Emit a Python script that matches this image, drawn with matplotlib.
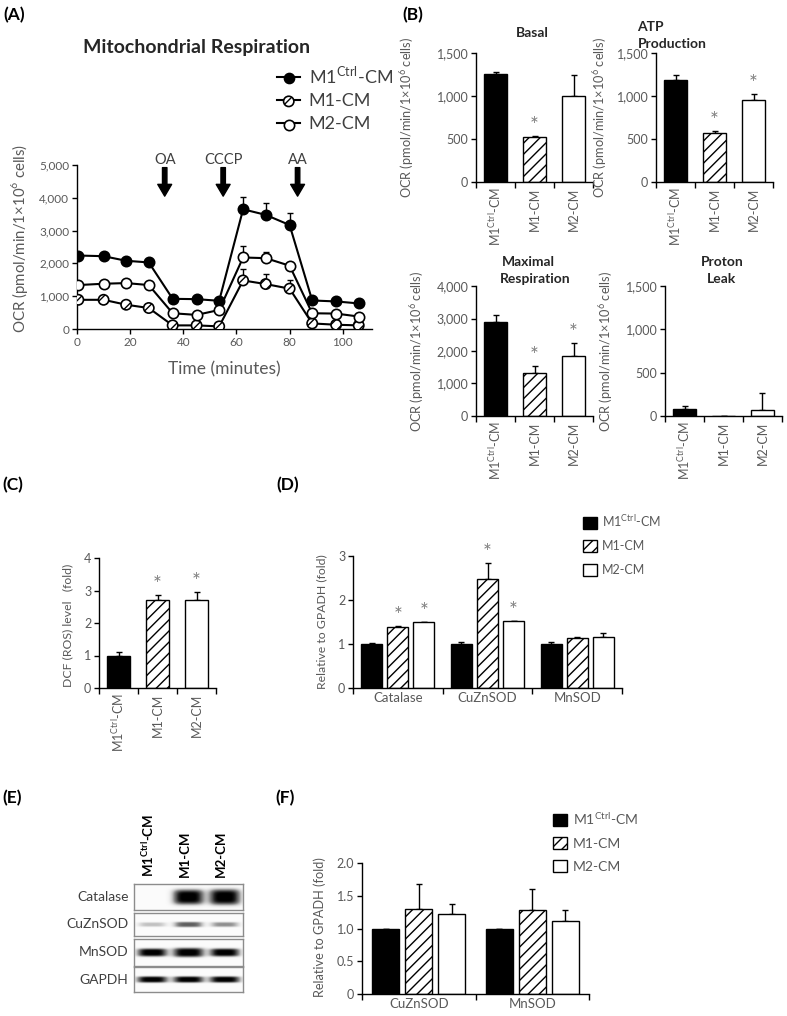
import numpy as np
import matplotlib
matplotlib.use('Agg')
import matplotlib.pyplot as plt
from matplotlib.lines import Line2D
from matplotlib.patches import Patch
from matplotlib.ticker import FuncFormatter

plt.rcParams['font.family'] = ['Lato', 'DejaVu Sans']
plt.rcParams['mathtext.fontset'] = 'custom'
plt.rcParams['mathtext.rm'] = 'Lato'
plt.rcParams['hatch.linewidth'] = 1.0

GREY = '#595959'
STAR = '#7f7f7f'

# ---- (A) mitochondrial respiration time course
time_min = [0.5, 10, 18.5, 27, 36, 45, 53.5, 62.5, 71, 80, 88.5, 97.5, 106]
ctrl_ocr = [2240, 2220, 2080, 2030, 920, 910, 860, 3650, 3480, 3170, 870, 840, 780]
ctrl_err = [60, 40, 50, 40, 40, 40, 40, 370, 350, 370, 40, 40, 40]
m1_ocr = [890, 890, 740, 640, 110, 110, 80, 1480, 1370, 1230, 170, 130, 110]
m1_err = [40, 40, 40, 40, 30, 30, 30, 350, 310, 270, 30, 30, 30]
m2_ocr = [1340, 1380, 1400, 1340, 480, 430, 580, 2180, 2160, 1930, 480, 470, 380]
m2_err = [40, 40, 40, 40, 40, 40, 40, 340, 200, 60, 40, 40, 40]
inject_time = [33, 55, 83]
inject_name = ['OA', 'CCCP', 'AA']

# ---- (B) respiration parameters
groups = ['M1$^{\\mathregular{Ctrl}}$-CM', 'M1-CM', 'M2-CM']
basal = [1260, 525, 1000]
basal_err = [20, 12, 250]
basal_sig = [False, True, False]
atp = [1185, 565, 950]
atp_err = [65, 30, 70]
atp_sig = [False, True, True]
maximal = [2900, 1320, 1850]
maximal_err = [200, 230, 400]
maximal_sig = [False, True, True]
leak = [80, 0, 65]
leak_err = [30, 0, 200]
leak_sig = [False, False, False]

# ---- (C) ROS
ros = [1.0, 2.7, 2.72]
ros_err = [0.1, 0.15, 0.22]
ros_sig = [False, True, True]

# ---- (D) mRNA
genes_d = ['Catalase', 'CuZnSOD', 'MnSOD']
mrna_ctrl = [1.0, 1.0, 1.0]
mrna_ctrl_err = [0.02, 0.05, 0.05]
mrna_m1 = [1.38, 2.48, 1.13]
mrna_m1_err = [0.03, 0.35, 0.02]
mrna_m2 = [1.5, 1.52, 1.17]
mrna_m2_err = [0.01, 0.01, 0.07]
mrna_m1_sig = [True, True, False]
mrna_m2_sig = [True, True, False]

# ---- (E) western blot band intensities (lanes: ctrl, M1, M2)
blot_rows = ['Catalase', 'CuZnSOD', 'MnSOD', 'GAPDH']
catalase_band = [0.0, 0.92, 1.0]
cuznsod_band = [0.22, 0.45, 0.33]
mnsod_band = [0.72, 0.95, 0.72]
gapdh_band = [0.85, 0.85, 0.85]

# ---- (F) protein
genes_f = ['CuZnSOD', 'MnSOD']
prot_ctrl = [1.0, 1.0]
prot_ctrl_err = [0.0, 0.0]
prot_m1 = [1.3, 1.29]
prot_m1_err = [0.38, 0.31]
prot_m2 = [1.22, 1.11]
prot_m2_err = [0.15, 0.18]

W, H = 787, 1016
fig = plt.figure(figsize=(W / 100, H / 100), dpi=100)


def add_ax(l, t, r, b):
    return fig.add_axes([l / W, 1 - b / H, (r - l) / W, (b - t) / H])


def ftext(x, y, s, **kw):
    fig.text(x / W, 1 - y / H, s, **kw)


def ylab(x, y, s, fs):
    ftext(x, y, s, rotation=90, ha='center', va='center', fontsize=fs, color=GREY)


def style(ax, fs=8.5):
    for s in ['top', 'right']:
        ax.spines[s].set_visible(False)
    for s in ['left', 'bottom']:
        ax.spines[s].set_linewidth(1)
    ax.tick_params(axis='both', which='both', color='black', labelcolor=GREY,
                   labelsize=fs, length=3.5, width=1, pad=2)


def cat_axis(ax, labels, rotate):
    n = len(labels)
    ax.set_xlim(-0.5, n - 0.5)
    ax.set_xticks(range(n))
    ax.set_xticklabels(labels, rotation=90 if rotate else 0)
    ax.set_xticks(np.arange(-0.5, n), minor=True)
    ax.tick_params(axis='x', which='major', length=0, pad=4)
    ax.tick_params(axis='x', which='minor', length=4)


fills = ['black', 'white', 'white']
hatches = [None, '///', None]


def star(ax, x, y):
    ax.annotate('*', (x, y), xytext=(0, 0), textcoords='offset points',
                ha='center', va='bottom', fontsize=15, color=STAR)


def single_bars(ax, vals, errs, sig, width=0.57):
    for i in range(len(vals)):
        ax.bar(i, vals[i], width, color=fills[i], edgecolor='black',
               hatch=hatches[i], linewidth=1, zorder=2)
    ax.errorbar(range(len(vals)), vals, yerr=[np.zeros(len(vals)), errs],
                fmt='none', ecolor='black', elinewidth=1, capsize=2.5,
                capthick=1, zorder=1)
    for i in range(len(vals)):
        if sig[i]:
            star(ax, i, vals[i] + errs[i])


def grouped_bars(ax, series, series_err, series_sig, width, step):
    x = np.arange(len(series[0]))
    for k in range(3):
        pos = x + (k - 1) * step
        ax.bar(pos, series[k], width, color=fills[k], edgecolor='black',
               hatch=hatches[k], linewidth=1, zorder=2)
        ax.errorbar(pos, series[k], yerr=[np.zeros(len(x)), series_err[k]],
                    fmt='none', ecolor='black', elinewidth=1, capsize=2.5,
                    capthick=1, zorder=1)
        if series_sig[k] is not None:
            for i in range(len(x)):
                if series_sig[k][i]:
                    star(ax, pos[i], series[k][i] + series_err[k][i])


comma = FuncFormatter(lambda v, p: f'{v:,.0f}')
ocr_label = 'OCR (pmol/min/1×10$^{\\mathregular{6}}$ cells)'

# ================= (A)
axA = add_ax(77, 165, 372, 329)
style(axA, 8.5)
axA.errorbar(time_min, ctrl_ocr, yerr=[np.zeros(13), ctrl_err], fmt='none',
             ecolor='black', elinewidth=1, capsize=2.5, zorder=1)
axA.errorbar(time_min, m1_ocr, yerr=[np.zeros(13), m1_err], fmt='none',
             ecolor='black', elinewidth=1, capsize=2.5, zorder=1)
axA.errorbar(time_min, m2_ocr, yerr=[np.zeros(13), m2_err], fmt='none',
             ecolor='black', elinewidth=1, capsize=2.5, zorder=1)
axA.plot(time_min, ctrl_ocr, color='black', lw=1.5, zorder=2)
axA.plot(time_min, m1_ocr, color='black', lw=1.5, zorder=2)
axA.plot(time_min, m2_ocr, color='black', lw=1.5, zorder=2)
axA.scatter(time_min, ctrl_ocr, s=55, marker='o', facecolor='black',
            edgecolor='black', linewidth=1.2, zorder=3)
axA.scatter(time_min, m1_ocr, s=55, marker='o', facecolor='white',
            edgecolor='black', linewidth=1.2, hatch='///', zorder=3)
axA.scatter(time_min, m2_ocr, s=55, marker='o', facecolor='white',
            edgecolor='black', linewidth=1.2, zorder=3)
axA.set_xlim(0, 111)
axA.set_ylim(0, 5000)
axA.set_xticks(range(0, 101, 20))
axA.set_yticks(range(0, 5001, 1000))
axA.yaxis.set_major_formatter(comma)
axA.set_xlabel('Time (minutes)', fontsize=12.5, color=GREY, labelpad=10)
ylab(20, 238, ocr_label, 10.8)
for t, name in zip(inject_time, inject_name):
    axA.annotate('', xy=(t, 4050), xytext=(t, 4920),
                 arrowprops=dict(facecolor='black', edgecolor='black', width=3.2,
                                 headwidth=10, headlength=8.5, shrink=0),
                 annotation_clip=False)
    axA.text(t, 5160, name, ha='center', va='center', fontsize=10.5,
             color='#404040', clip_on=False)
ftext(197, 47, 'Mitochondrial Respiration', ha='center', va='center',
      fontsize=14, fontweight='bold', color='#262626')

h_ctrl = (Line2D([], [], color='black', lw=1.5),
          axA.scatter([], [], s=55, marker='o', facecolor='black', edgecolor='black'))
h_m1 = (Line2D([], [], color='black', lw=1.5),
        axA.scatter([], [], s=55, marker='o', facecolor='white', edgecolor='black',
                    linewidth=1.2, hatch='///'))
h_m2 = (Line2D([], [], color='black', lw=1.5),
        axA.scatter([], [], s=55, marker='o', facecolor='white', edgecolor='black',
                    linewidth=1.2))
legA = axA.legend([h_ctrl, h_m1, h_m2], groups, loc='upper left',
                  bbox_to_anchor=(277 / W, 1 - 64 / H), bbox_transform=fig.transFigure,
                  frameon=False, fontsize=13, handlelength=1.3, handletextpad=0.45,
                  labelspacing=0.4, borderpad=0, borderaxespad=0)
for txt in legA.get_texts():
    txt.set_color('#404040')

# ================= (B)
b_specs = [
    ((476, 53, 593, 182), basal, basal_err, basal_sig, 1500, 500, 407),
    ((656, 53, 773, 182), atp, atp_err, atp_sig, 1500, 500, 600),
    ((476, 286, 593, 416), maximal, maximal_err, maximal_sig, 4000, 1000, 417),
    ((665, 286, 782, 416), leak, leak_err, leak_sig, 1500, 500, 606),
]
for box, vals, errs, sig, ymax, ystep, lx in b_specs:
    ax = add_ax(*box)
    style(ax, 9)
    single_bars(ax, vals, errs, sig)
    cat_axis(ax, groups, True)
    ax.tick_params(axis='x', labelsize=9)
    ax.set_ylim(0, ymax)
    ax.set_yticks(np.arange(0, ymax + 1, ystep))
    ax.yaxis.set_major_formatter(comma)
    ylab(lx, (box[1] + box[3]) / 2, ocr_label, 9.2)

for x, y, s in [(532, 33, 'Basal'), (650, 27, 'ATP'), (672, 44, 'Production'),
                (528, 262, 'Maximal'), (535, 279, 'Respiration'),
                (722, 262, 'Proton'), (722, 279, 'Leak')]:
    ftext(x, y, s, ha='center', va='center', fontsize=10, fontweight='bold',
          color='#262626')

# ================= (C)
axC = add_ax(99, 558, 216, 688)
style(axC, 9)
single_bars(axC, ros, ros_err, ros_sig, width=0.58)
cat_axis(axC, groups, True)
axC.tick_params(axis='x', labelsize=9)
axC.set_ylim(0, 4)
axC.set_yticks(range(0, 5))
ylab(68, 625, 'DCF (ROS) level   (fold)', 8.8)

# ================= (D)
axD = add_ax(353, 556, 622, 688)
style(axD, 9)
grouped_bars(axD, [mrna_ctrl, mrna_m1, mrna_m2],
             [mrna_ctrl_err, mrna_m1_err, mrna_m2_err],
             [None, mrna_m1_sig, mrna_m2_sig], 0.235, 0.29)
cat_axis(axD, genes_d, False)
axD.tick_params(axis='x', labelsize=9.5, pad=3)
axD.set_ylim(0, 3)
axD.set_yticks(range(0, 4))
ylab(322, 622, 'Relative to GPADH (fold)', 8.8)

legend_handles = [Patch(facecolor='black', edgecolor='black'),
                  Patch(facecolor='white', edgecolor='black', hatch='///'),
                  Patch(facecolor='white', edgecolor='black')]
legD = axD.legend(legend_handles, groups, loc='upper left',
                  bbox_to_anchor=(583 / W, 1 - 513 / H), bbox_transform=fig.transFigure,
                  frameon=False, fontsize=9, handlelength=1.1, handleheight=1.1,
                  handletextpad=0.4, labelspacing=0.9, borderpad=0, borderaxespad=0)
for txt in legD.get_texts():
    txt.set_color(GREY)

# ================= (E) western blot
row_boxes = [(134, 884, 243, 910), (134, 913, 243, 936),
             (134, 939, 243, 966), (134, 967, 243, 992)]
bands = [catalase_band, cuznsod_band, mnsod_band, gapdh_band]
band_half = [0.55, 0.3, 0.32, 0.25]
xs = np.linspace(0.5, 3.5, 330)
ys = np.linspace(-1, 1, 60)
for r, (box, inten, half) in enumerate(zip(row_boxes, bands, band_half)):
    ax = add_ax(*box)
    img = np.zeros((len(ys), len(xs))) + 0.03
    for lane, v in zip([1, 2, 3], inten):
        if v <= 0:
            continue
        hw = 0.38 + 0.06 * v
        th = half * (0.55 + 0.6 * v)
        prof_x = np.exp(-np.abs((xs - lane) / hw) ** 4)
        prof_y = np.exp(-(ys / th) ** 4)
        img += min(1.0, 1.5 * v) * np.outer(prof_y, prof_x)
    ax.imshow(np.clip(img, 0, 1), cmap='Greys', vmin=0, vmax=1, aspect='auto',
              extent=(0.5, 3.5, -1, 1), interpolation='bilinear')
    ax.set_xticks([])
    ax.set_yticks([])
    for s in ax.spines.values():
        s.set_color('#8c8c8c')
        s.set_linewidth(1)
    ax.text(-0.05, 0.5, blot_rows[r], transform=ax.transAxes, ha='right',
            va='center', fontsize=10, color='#404040')
    if r == 0:
        for lane, name in zip([1, 2, 3], groups):
            ax.annotate(name, (lane - 0.1, 1), xycoords=('data', 'axes fraction'),
                        xytext=(0, 5), textcoords='offset points', rotation=90,
                        ha='center', va='bottom', fontsize=9.5, fontweight='bold',
                        color='black', annotation_clip=False)

# ================= (F)
axF = add_ax(362, 863, 589, 994)
style(axF, 9)
grouped_bars(axF, [prot_ctrl, prot_m1, prot_m2],
             [prot_ctrl_err, prot_m1_err, prot_m2_err],
             [None, None, None], 0.235, 0.29)
cat_axis(axF, genes_f, False)
axF.tick_params(axis='x', labelsize=9.5, pad=3)
axF.set_ylim(0, 2)
axF.set_yticks(np.arange(0, 2.01, 0.5))
axF.yaxis.set_major_formatter(FuncFormatter(lambda v, p: '0' if v == 0 else f'{v:.1f}'))
ylab(320, 927, 'Relative to GPADH (fold)', 9.2)
legF = axF.legend(legend_handles, groups, loc='upper left',
                  bbox_to_anchor=(553 / W, 1 - 810 / H), bbox_transform=fig.transFigure,
                  frameon=False, fontsize=10, handlelength=1.0, handleheight=1.0,
                  handletextpad=0.45, labelspacing=0.72, borderpad=0, borderaxespad=0)
for txt in legF.get_texts():
    txt.set_color(GREY)

# panel letters
for x, y, s in [(3, 15, '(A)'), (402, 15, '(B)'), (2, 485, '(C)'),
                (276, 485, '(D)'), (2, 798, '(E)'), (275, 798, '(F)')]:
    ftext(x, y, s, ha='left', va='center', fontsize=12.5, fontweight='bold', color='black')

fig.savefig('out.png', dpi=100)
